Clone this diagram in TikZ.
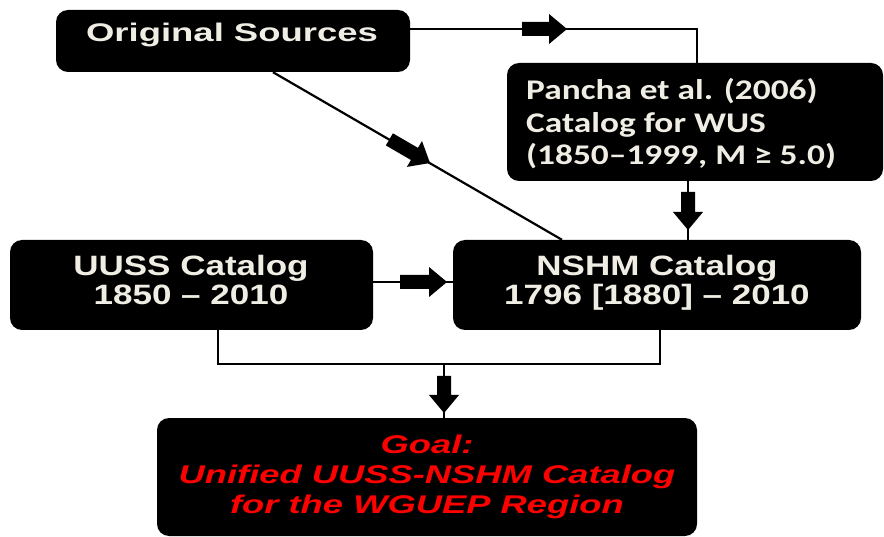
\documentclass[tikz,border=0pt]{standalone}
\usepackage{fontspec}
\newfontfamily\arialA[FakeStretch=1.43]{Liberation Sans}
\newfontfamily\arialB[FakeStretch=1.25]{Liberation Sans}
\newfontfamily\calA[FakeStretch=1.24]{Carlito}
\newfontfamily\arialG[FakeStretch=1.42]{Liberation Sans}
\definecolor{txtw}{RGB}{240,238,228}
\definecolor{goalred}{RGB}{255,0,0}
\tikzset{
  box/.style={fill=black, rounded corners=12pt, inner sep=0pt},
  conn/.style={line width=2.2pt, black},
  wtext/.style={text=txtw, inner sep=0pt, align=center},
}
\newcommand{\fatarrow}[3]{% tip, angle, total length
  \fill[black, shift={#1}, rotate=#2]
    (-#3,-7) -- (-18,-7) -- (-18,-15) -- (0,0) -- (-18,15) -- (-18,7) -- (-#3,7) -- cycle;}
\begin{document}
\begin{tikzpicture}[x=1pt,y=-1pt]
\useasboundingbox (0,0) rectangle (884,537);
% boxes
\node[box, minimum width=354pt, minimum height=62pt] (orig) at (233,41) {};
\node[box, minimum width=376pt, minimum height=118pt] (pancha) at (695,122) {};
\node[box, minimum width=363pt, minimum height=90pt] (uuss) at (191.5,285) {};
\node[box, minimum width=408pt, minimum height=90pt] (nshm) at (657,285) {};
\node[box, minimum width=540pt, minimum height=118pt] (goal) at (427,477) {};
% connectors
\draw[conn] ([yshift=12pt]orig.east) -| ([xshift=2pt]pancha.north);
\draw[conn] ([xshift=40pt]orig.south) -- ([xshift=-95pt]nshm.north);
\draw[conn] ([xshift=-7pt]pancha.south) -- ([xshift=-7pt]pancha.south |- nshm.north);
\draw[conn] ([yshift=3pt]uuss.east) -- ([yshift=3pt]uuss.east -| nshm.west);
\coordinate (join) at (444,364);
\draw[conn] ([xshift=26.5pt]uuss.south) |- (join) -| ([xshift=3pt]nshm.south);
\draw[conn] (join) -- (join |- goal.north);
% block arrows
\fatarrow{(567,29)}{0}{45}
\fatarrow{(430,163)}{-30.2}{47}
\fatarrow{(688,230)}{-90}{38}
\fatarrow{(447,282)}{0}{47}
\fatarrow{(444,413)}{-90}{37}
% texts
\node[wtext, anchor=base, font=\arialA\bfseries\fontsize{25.5}{30}\selectfont] (origT) at (232,41.7) {Original Sources};
\node[wtext, anchor=base west, align=left, font=\calA\bfseries\fontsize{28.5}{32.5}\selectfont] (panchaT) at (526,165) {Pancha et al. (2006)\\Catalog for WUS\\(1850–1999, M ≥ 5.0)};
\node[wtext, anchor=base, font=\arialB\bfseries\fontsize{28}{29.5}\selectfont] (uussT) at (191,305) {UUSS Catalog\\1850 – 2010};
\node[wtext, anchor=base, font=\arialB\bfseries\fontsize{28}{29.5}\selectfont] (nshmT) at (657,305) {NSHM Catalog\\1796 [1880] – 2010};
\node[text=goalred, inner sep=0pt, align=center, anchor=base, font=\arialG\bfseries\itshape\fontsize{25.6}{30}\selectfont] (goalT) at (427,513) {Goal:\\Unified UUSS-NSHM Catalog\\for the WGUEP Region};
\end{tikzpicture}
\end{document}
